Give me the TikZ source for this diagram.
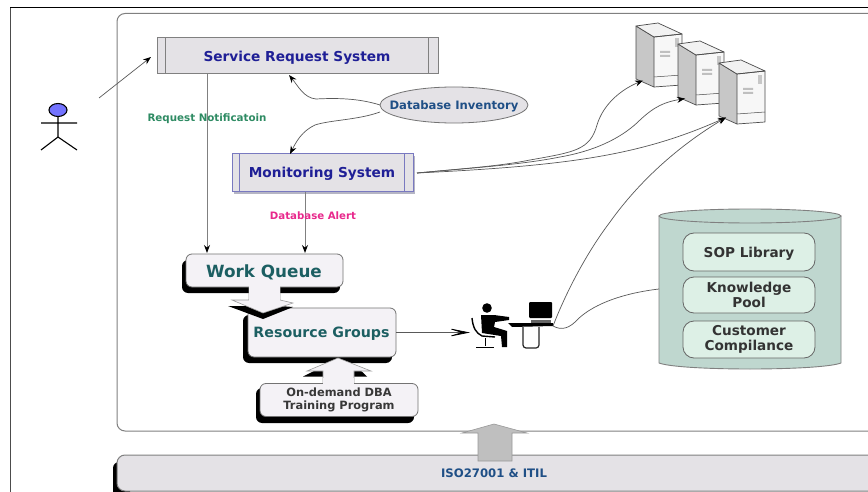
\documentclass[tikz,border=0pt]{standalone}
\usepackage{fontspec}
\setmainfont{DejaVu Sans}
\usetikzlibrary{arrows.meta,shapes.geometric}
\definecolor{boxgrey}{HTML}{E4E2E6}
\definecolor{softfill}{HTML}{F4F2F6}
\definecolor{navy}{HTML}{1F1F96}
\definecolor{teal2}{HTML}{1C5F62}
\definecolor{dbblue}{HTML}{1F4F86}
\definecolor{green2}{HTML}{2E8B63}
\definecolor{pink2}{HTML}{E8288C}
\definecolor{cylfill}{HTML}{BFD7CF}
\definecolor{cylin}{HTML}{DDF0E6}
\definecolor{linegrey}{HTML}{808080}
\tikzset{
  x=1pt,y=-1pt,
  conn/.style={draw=black!65,line width=.7pt,-{Stealth[length=8pt,width=6pt,color=black]}},
  vconn/.style={draw=linegrey,line width=1pt,-{Stealth[length=8pt,width=6pt,color=black]}},
  plainline/.style={draw=black!65,line width=.7pt},
  sysbox/.style={draw=linegrey,line width=1pt,fill=boxgrey,inner sep=0pt},
  monbox/.style={draw=navy!60,line width=1pt,fill=boxgrey,inner sep=0pt},
  softbox/.style={draw=black!55,line width=.8pt,fill=softfill,rounded corners=6pt,inner sep=0pt},
  shadowbox/.style={fill=black,rounded corners=6pt},
  blockarrow/.style={draw=black!40,line width=.6pt,fill=softfill},
  inbox/.style={draw=black!60,line width=.8pt,fill=cylin,rounded corners=11pt,minimum width=132pt,inner sep=0pt,align=center,font=\bfseries\fontsize{13.6}{15}\selectfont,text=black!80},
  label/.style={inner sep=0pt,text depth=0pt},
  server/.style={draw=black!70,line width=.7pt,line join=round}
}
\newcommand{\srv}[3]{%
  \begin{scope}[shift={(#1,#2)}]
    \coordinate (#3) at (7,54.5);
    \fill[black!3] (18,11) -- (46,8) -- (46,59) -- (18,61) -- cycle;
    \filldraw[server,fill=black!22] (0,0) -- (18,11) -- (18,61) -- (0,53) -- cycle;
    \filldraw[server,fill=black!5] (0,0) -- (22,-3) -- (46,8) -- (18,11) -- cycle;
    \draw[server] (18,11) -- (46,8) -- (46,59) -- (18,61);
    \draw[server,line width=.5pt] (18,51) -- (46,49);
    \fill[black!22] (39,12) rectangle (43,21);
    \fill[black!25] (24,25) rectangle (34,27) (24,29) rectangle (34,31);
  \end{scope}}
\begin{document}
\begin{tikzpicture}
\useasboundingbox (0,0) rectangle (868,492);
\fill[white] (0,0) rectangle (868,492);
\draw[black!70,line width=1pt] (10,492) -- (10,8);
\draw[black,line width=1pt] (10,8) -- (868,8);
% frame
\draw[linegrey,line width=1pt,rounded corners=8pt] (868,13.5) -- (117,13.5) -- (117,431) -- (868,431);
% bottom band
\fill[black,rounded corners=6pt] (113,462) rectangle (130,500);
\path[fill=boxgrey,draw=linegrey,line width=1pt,rounded corners=8pt] (868,455) -- (117,455) -- (117,491) -- (868,491);
% ISO arrow
\filldraw[blockarrow,fill=black!25] (478,461) -- (478,433) -- (462,433) -- (494,424) -- (527,433) -- (512,433) -- (512,461) -- cycle;
\node[label,text=dbblue,font=\bfseries\fontsize{11.7}{13}\selectfont] (iso) at (494,473) {ISO27001 \& ITIL};
% actor
\filldraw[draw=black,line width=1.1pt,fill=blue!55!white] (58,110) ellipse (9 and 6.5);
\coordinate (actorout) at (99,98);
\draw[black,line width=1.1pt] (58,117) -- (58,137) (41,123) -- (77,123) (41,150) -- (58,137) -- (77,150);
% service request
\node[sysbox,minimum width=281pt,minimum height=36.5pt] (srs) at (297.5,55.7) {};
\draw[linegrey,line width=1pt] (165,37.5) -- (165,74) (428,37.5) -- (428,74);
\node[label,text=navy,font=\bfseries\fontsize{13.7}{15}\selectfont] (srst) at (297,56) {Service Request System};
\coordinate (srsin) at (151,57);
\draw[conn] (actorout) -- (srsin);
% monitoring
\fill[navy!40!black,opacity=.3] (234,156) rectangle (415,194);
\node[monbox,minimum width=181pt,minimum height=38pt] (mon) at (322.5,173) {};
\draw[navy!60,line width=1pt] (239,154) -- (239,192) (404,154) -- (404,192);
\node[label,text=navy,font=\bfseries\fontsize{13.7}{15}\selectfont] (mont) at (322,172.7) {Monitoring System};
% ellipse
\node[ellipse,draw=black!55,line width=.8pt,fill=boxgrey,minimum width=148pt,minimum height=36pt,inner sep=0pt] (db) at (454,105) {};
\node[label,text=dbblue,font=\bfseries\fontsize{11.6}{13}\selectfont] (dbi) at (454,105) {Database Inventory};
\coordinate (dbw1) at (380,105);
\coordinate (dbw2) at (380,112);
\coordinate (srsb) at (289,75);
\coordinate (monb) at (290,154);
\draw[conn] (dbw1) .. controls (358,98) and (335,98) .. (316,99) .. controls (304,98) and (298,86) .. (srsb);
\draw[conn] (dbw2) .. controls (358,120) and (330,120) .. (315,125) .. controls (302,131) and (296,142) .. (monb);
% vertical lines and their labels
\coordinate (wq1) at (207,253);
\coordinate (wq2) at (305,253);
\coordinate (s1bot) at (207,74);
\coordinate (s2bot) at (305,192);
\draw[vconn] (s1bot) -- (wq1);
\draw[vconn] (s2bot) -- (wq2);
\node[label,text=green2,font=\bfseries\fontsize{10.3}{12}\selectfont] (rn) at (207,117.3) {Request Notificatoin};
\node[label,text=pink2,font=\bfseries\fontsize{10.2}{12}\selectfont] (da) at (313,216) {Database Alert};
% work queue
\fill[shadowbox] (182,260) rectangle (340,293);
\node[softbox,minimum width=157pt,minimum height=33pt] (wq) at (264.5,270.5) {};
\node[label,text=teal2,font=\bfseries\fontsize{16.8}{18}\selectfont] (wqt) at (264,271) {Work Queue};
% resource groups
\fill[shadowbox] (243,315) rectangle (392,363);
\node[softbox,minimum width=148pt,minimum height=49pt] (rg) at (322,332.5) {};
\node[label,text=teal2,font=\bfseries\fontsize{14.2}{16}\selectfont] (rgt) at (321.5,332.5) {Resource Groups};
% block arrow work queue -> resource groups
\fill[black] (228,306) -- (249,306) -- (280,306) -- (293,307) -- (263,319) -- cycle;
\filldraw[blockarrow] (249,287) -- (249,300) -- (232,300) -- (263,313) -- (293,303) -- (280,300) -- (280,287);
\fill[softfill] (249.4,284) rectangle (279.6,301);
% training
\fill[black] (303,376.5) -- (320,368) -- (358,368) -- (367,376.5) -- cycle;
\filldraw[blockarrow] (323,386) -- (323,371) -- (307,371) -- (338,358) -- (371,371) -- (354,371) -- (354,386) -- cycle;
\fill[shadowbox] (256,388) rectangle (414,423);
\node[softbox,minimum width=158pt,minimum height=33pt,align=center,text=black!78,font=\bfseries\fontsize{11.4}{13}\selectfont] (tr) at (339,400) {On-demand DBA\\Training Program};
\fill[softfill] (323.4,378) rectangle (353.6,383.6);
% person
\coordinate (deskr) at (553,326);
\coordinate (persin) at (470,332.5);
\fill[black] (487,308) circle (4.8);
\fill[black] (481,315) -- (494,315) -- (509,317) -- (509,320) -- (495,322) -- (494,327) -- (507,331) -- (507,347) -- (502,347) -- (501,336) -- (482,333) -- cycle;
\draw[black,line width=1.4pt] (472,318) .. controls (473,328) and (476,333) .. (482,336) -- (495,337);
\draw[black,line width=1pt] (485,338) -- (485,346);
\draw[black,line width=1pt] (476,347) -- (494,347);
\fill[black,rounded corners=1pt] (529,302) rectangle (552,318);
\fill[black!60] (531,320) rectangle (551,323);
\fill[black] (508,323) -- (553,323) -- (553,326) -- (512,327) -- cycle;
\draw[black!85,line width=1.2pt,rounded corners=3pt] (523,327) -- (523,348) -- (539,348) -- (539,327);
\draw[draw=black!65,line width=.7pt,-{Stealth[length=25pt,width=10pt,inset=16pt,color=black]}] (rg.east) -- (persin);
% database cylinder
\filldraw[draw=black!50,line width=.9pt,fill=cylfill] (659,216) -- (659,363) .. controls (680,371) and (820,371) .. (841,363) -- (841,216) -- cycle;
\filldraw[draw=black!50,line width=.9pt,fill=cylfill] (750,216) ellipse (91 and 7);
\coordinate (cylw) at (659,289);
\node[inbox,minimum height=38pt,text depth=0pt] (sop) at (749,252) {SOP Library};
\node[inbox,minimum height=36pt] (kp) at (749,295) {Knowledge\\Pool};
\node[inbox,minimum height=37pt] (cc) at (749,339.5) {Customer\\Compilance};
% servers
\srv{636}{26}{s1}
\srv{678}{44}{s2}
\srv{719}{63}{s3}
% connectors to servers
\coordinate (monr) at (417,173);
\draw[conn] (monr) .. controls (470,168) and (500,166) .. (530,160) .. controls (575,152) and (590,150) .. (597,125) .. controls (603,105) and (620,90) .. (s1);
\draw[conn] (monr) .. controls (470,168) and (520,165) .. (560,157) .. controls (600,150) and (625,135) .. (640,120) .. controls (655,106) and (665,102) .. (s2);
\draw[conn] (monr) .. controls (480,170) and (540,166) .. (590,158) .. controls (640,150) and (680,138) .. (s3);
\draw[conn] (deskr) .. controls (565,295) and (585,255) .. (610,222) .. controls (640,180) and (680,145) .. (s3);
\draw[plainline] (deskr) .. controls (562,331) and (570,328) .. (578,319) .. controls (595,303) and (625,293) .. (cylw);
\end{tikzpicture}
\end{document}
